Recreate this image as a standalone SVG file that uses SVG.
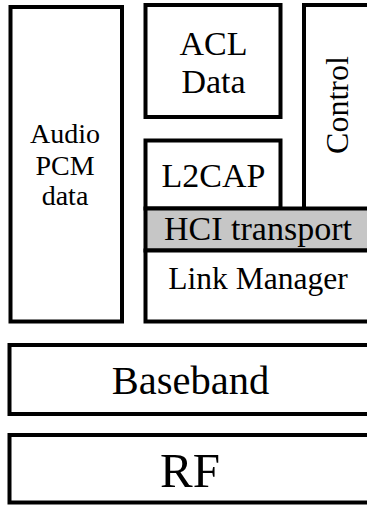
<svg xmlns="http://www.w3.org/2000/svg" width="367" height="507" viewBox="0 0 367 507">
<style>
.b{fill:#fff;stroke:#000;stroke-width:4}
.g{fill:#c6c6c6;stroke:#000;stroke-width:4}
text{fill:#000;text-anchor:middle}
</style>
<rect width="367" height="507" fill="#fff"/>
<g font-family="Liberation Serif, Times New Roman, Times, DejaVu Serif, serif">
<g id="audio"><rect class="b" x="10.5" y="7" width="111.5" height="314.5"/>
<text x="65" y="142.5" font-size="28">Audio</text>
<text x="65" y="174.5" font-size="28">PCM</text>
<text x="65" y="205" font-size="28">data</text></g>
<g id="acl"><rect class="b" x="145.5" y="5" width="135" height="112"/>
<text x="213.5" y="55" font-size="34">ACL</text>
<text x="213.5" y="92.5" font-size="34">Data</text></g>
<g id="control"><rect class="b" x="304" y="5" width="80" height="204"/>
<text transform="translate(348,105) rotate(-90)" font-size="32">Control</text></g>
<g id="l2cap"><rect class="b" x="145.5" y="140.5" width="135" height="68"/>
<text x="213.5" y="187" font-size="34">L2CAP</text></g>
<g id="hci"><rect class="g" x="145.5" y="208.5" width="240" height="42"/>
<text x="258" y="240" font-size="34">HCI transport</text></g>
<g id="lm"><rect class="b" x="145.5" y="250.5" width="240" height="71"/>
<text x="258" y="288.5" font-size="31.5">Link Manager</text></g>
<g id="baseband"><rect class="b" x="9.5" y="345" width="380" height="69"/>
<text x="190.5" y="393.5" font-size="40.5">Baseband</text></g>
<g id="rf"><rect class="b" x="9.5" y="435" width="380" height="67.5"/>
<text x="190" y="486.5" font-size="49">RF</text></g>
</g>
<g id="connectors"/>
</svg>
